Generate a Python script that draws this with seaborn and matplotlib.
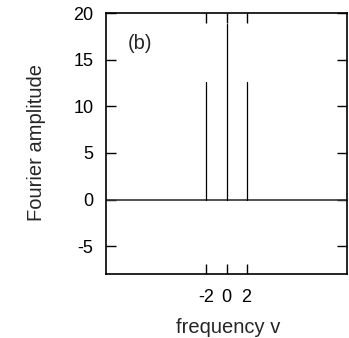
import matplotlib
matplotlib.use("Agg")
import matplotlib.pyplot as plt
import seaborn as sns
import pandas as pd

# Data
frequency = [-2, 0, 2]
amplitude = [12.6, 18.85, 12.6]
freq_range = [-12, 12]
xticks = [-2, 0, 2]
yticks = [-5, 0, 5, 10, 15, 20]

sns.set_style("ticks")
plt.rcParams['font.family'] = ['Liberation Sans', 'DejaVu Sans']
plt.rcParams['axes.unicode_minus'] = False

fig = plt.figure(figsize=(3.49, 3.38), dpi=100)
ax = fig.add_axes([106/349, 1 - 274/338, (347-106)/349, (274-13.3)/338])

# baseline spectrum (zero everywhere except impulses)
base = pd.DataFrame({"f": freq_range, "a": [0, 0]})
sns.lineplot(data=base, x="f", y="a", ax=ax, color="#333333", linewidth=1.2,
             estimator=None, sort=False)
for f, a in zip(frequency, amplitude):
    seg = pd.DataFrame({"f": [f, f], "a": [0, a]})
    sns.lineplot(data=seg, x="f", y="a", ax=ax, color="black", linewidth=0.9,
                 estimator=None, sort=False)

ax.set_xlim(-12, 12)
ax.set_ylim(-8, 20)
ax.set_xticks(xticks)
ax.set_yticks(yticks)
ax.tick_params(direction="in", length=7.2, width=1, top=True, right=True,
               labelsize=13, colors="black")
ax.tick_params(axis="y", pad=9)
ax.tick_params(axis="x", pad=10.5)
for s in ax.spines.values():
    s.set_linewidth(1.2)
    s.set_color("black")

ax.set_xlabel("frequency v", fontsize=14.5)
ax.set_ylabel("Fourier amplitude", fontsize=14.5)
ax.xaxis.label.set_va("center")
ax.yaxis.label.set_va("center")
ax.xaxis.set_label_coords(0.506, -0.206)
ax.yaxis.set_label_coords(-0.288, 0.506)
ax.text(-9.8, 16.8, "(b)", fontsize=14.5, va="center", ha="left")

fig.savefig("out.png", dpi=100)
